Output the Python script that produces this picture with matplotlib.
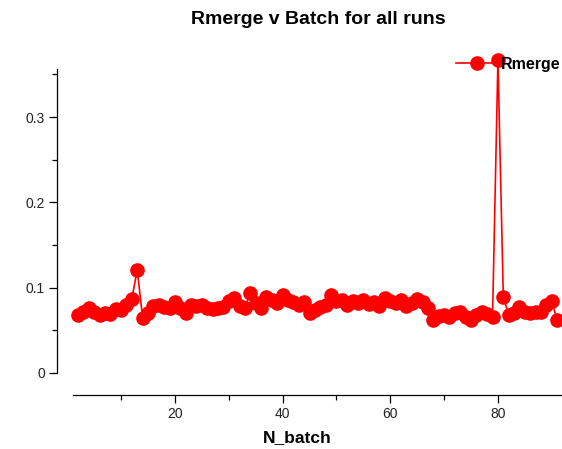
import matplotlib
matplotlib.use("Agg")
import matplotlib.pyplot as plt
from matplotlib.ticker import FixedLocator

n_batch = list(range(2, 92))
rmerge = [0.068, 0.071, 0.076, 0.072, 0.068, 0.070, 0.069, 0.075, 0.074, 0.080,
          0.087, 0.121, 0.065, 0.070, 0.078, 0.080, 0.077, 0.076, 0.083, 0.076,
          0.070, 0.080, 0.079, 0.080, 0.076, 0.075, 0.076, 0.077, 0.084, 0.088,
          0.079, 0.076, 0.094, 0.082, 0.076, 0.089, 0.085, 0.082, 0.091, 0.085,
          0.083, 0.080, 0.083, 0.070, 0.074, 0.077, 0.080, 0.091, 0.084, 0.086,
          0.080, 0.084, 0.082, 0.086, 0.081, 0.083, 0.079, 0.088, 0.084, 0.082,
          0.086, 0.078, 0.082, 0.087, 0.083, 0.076, 0.062, 0.067, 0.068, 0.066,
          0.070, 0.072, 0.066, 0.062, 0.068, 0.072, 0.069, 0.066, 0.367, 0.089,
          0.068, 0.070, 0.077, 0.072, 0.070, 0.072, 0.072, 0.080, 0.084, 0.062]
x_major = [20, 40, 60, 80]
x_minor = [10, 30, 50, 70]
y_major = [0, 0.1, 0.2, 0.3]
y_labels = ['0', '0.1', '0.2', '0.3']
y_minor = [0.05, 0.15, 0.25, 0.35]

plt.rcParams['font.family'] = ['Liberation Sans', 'DejaVu Sans']

fig = plt.figure(figsize=(5.62, 4.49), dpi=100)
ax = fig.add_axes([57 / 562, 54 / 449, 505 / 562, 355 / 449])

ax.plot(n_batch, rmerge, '-o', color='#ff0000', lw=1.2, markersize=9.5,
        markeredgecolor='#ff0000', label='Rmerge', clip_on=False)

ax.set_xlim(-1.9, 91.9)
ax.set_ylim(-0.0258, 0.3903)

for s in ['top', 'right']:
    ax.spines[s].set_visible(False)
ax.spines['bottom'].set_bounds(1.0, 91.9)
ax.spines['left'].set_bounds(0, 0.356)
ax.spines['left'].set_linewidth(0.9)
ax.spines['bottom'].set_linewidth(0.9)

ax.set_xticks(x_major)
ax.xaxis.set_minor_locator(FixedLocator(x_minor))
ax.set_yticks(y_major)
ax.set_yticklabels(y_labels)
ax.yaxis.set_minor_locator(FixedLocator(y_minor))
ax.tick_params(which='major', length=5.8, width=0.9, labelsize=10, colors='black',
               labelcolor='#222222', pad=3)
ax.tick_params(which='minor', length=3.6, width=0.9)

fig.text(297 / 562, 1 - 438 / 449, 'N_batch', ha='center', va='center',
         fontsize=12.5, fontweight='bold')
fig.text(318 / 562, 1 - 20 / 449, 'Rmerge v Batch for all runs', ha='center',
         va='center', fontsize=14, fontweight='bold')

# legend squeezed into the top right corner
ax.legend(loc='center left', bbox_to_anchor=(456 / 562, 1 - 64 / 449),
          bbox_transform=fig.transFigure, frameon=False,
          prop={'weight': 'bold', 'size': 11.5}, handlelength=2.6,
          handletextpad=0.2, borderpad=0, borderaxespad=0)

plt.savefig('out.png')
